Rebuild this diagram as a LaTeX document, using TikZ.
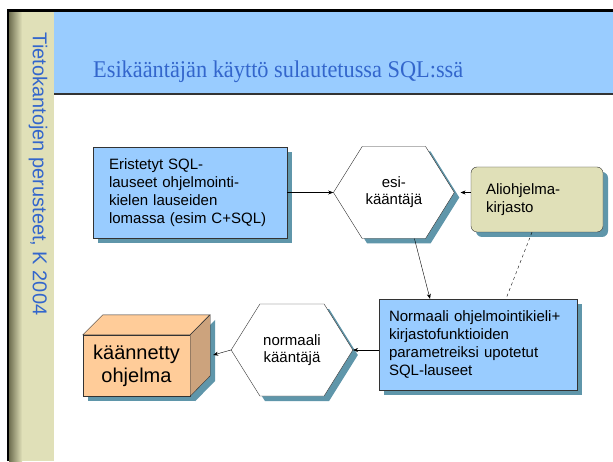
\documentclass[tikz,border=0pt]{standalone}
\usepackage{fontspec}
\setmainfont{Liberation Sans}
\newfontfamily\titleserif{Liberation Serif}
\usepackage{tikz}
\usetikzlibrary{arrows.meta,positioning,shapes.symbols,shadows,calc}
\definecolor{slideblue}{HTML}{99CCFF}
\definecolor{titleblue}{HTML}{3366CC}
\definecolor{sidebeige}{HTML}{E0E0B8}
\definecolor{sideshade}{HTML}{6E6E50}
\definecolor{shadowteal}{HTML}{5F96AA}
\definecolor{boxgray}{HTML}{333333}
\definecolor{cubefront}{HTML}{FFCC99}
\definecolor{cubeside}{HTML}{CCA37D}

\begin{document}
\begin{tikzpicture}[x=1pt,y=1pt,
  tealshadow/.style={drop shadow={shadow xshift=5pt,shadow yshift=-5pt,fill=shadowteal,opacity=1}},
  box/.style={draw=boxgray,fill=slideblue,align=left,minimum height=91pt,
              font=\fontsize{15}{18}\selectfont,tealshadow},
  hexa/.style={shape=signal,signal to=west and east,signal pointer angle=116,
               draw=boxgray,fill=white,minimum width=112pt,minimum height=92pt,
               align=center,font=\fontsize{15}{17}\selectfont,tealshadow},
  arrow/.style={-{Stealth[length=5pt,width=4pt]},thin}
]
  \useasboundingbox (0,0) rectangle (613,461);
  \fill[white] (0,0) rectangle (613,461);
  \fill[sidebeige] (9,0) rectangle (54,449);
  \shade[left color=sideshade,right color=sidebeige] (9,0) rectangle (22,449);
  \fill[slideblue] (54,367) rectangle (613,449);
  \draw[boxgray,line width=1.2pt] (54,367) -- (613,367);
  \draw[black,line width=2.5pt] (8,0) -- (8,450.5) -- (613,450.5);

  \node[font=\titleserif\fontsize{24}{28}\selectfont,text=titleblue,anchor=base west,inner sep=0pt,xscale=0.93] (title) at (93,383) {Esikääntäjän käyttö sulautetussa SQL:ssä};
  \node[font=\fontsize{20}{24}\selectfont,text=titleblue,rotate=-90] (course) at (38,287) {Tietokantojen perusteet, K 2004};

  \node[box,text width=162pt,inner xsep=16pt] (src) at (190,268.5) {Eristetyt SQL-\\lauseet ohjelmointi-\\kielen lauseiden\\lomassa (esim C+SQL)};
  \node[hexa,right=46pt of src] (esi) {esi-\\kääntäjä};
  \node[box,fill=sidebeige,rounded corners=6pt,text width=102pt,inner xsep=15pt,minimum height=65pt] (lib) at (537,261.5) {Aliohjelma-\\kirjasto};
  \node[box,text width=178pt,inner xsep=10pt] (norm) at (478,116.5) {Normaali ohjelmointikieli+\\kirjastofunktioiden\\parametreiksi upotetut\\SQL-lauseet};
  \node[hexa,minimum width=110pt] (comp) at (292,111) {normaali\\kääntäjä};
  \node[draw=boxgray,fill=cubefront,minimum width=107pt,minimum height=61pt,align=center,
        font=\fontsize{20}{23}\selectfont,tealshadow] (cube) at (136.5,95.5) {käännetty\\ohjelma};
  \draw[boxgray,fill=cubefront] (cube.north west) -- ++(20,20) -- ++(107,0) -- (cube.north east) -- cycle;
  \draw[boxgray,fill=cubeside,tealshadow] (cube.north east) -- ++(20,20) -- ++(0,-61) -- (cube.south east) -- cycle;
  \coordinate (cubeside) at ($(cube.east)+(23,10.5)$);

  \draw[arrow] (src.east) -- (esi.west);
  \draw[arrow,shorten >=6pt] (lib.west |- esi.east) -- (esi.east);
  \draw[arrow] (esi.-66) -- ([xshift=-48pt]norm.north);
  \draw[dashed,dash pattern=on 3pt off 3pt] ([xshift=-5pt]lib.south) -- ([xshift=28pt]norm.north);
  \draw[arrow] (norm.west |- comp.east) -- (comp.east);
  \draw[arrow] (comp.west) -- (cubeside);
\end{tikzpicture}
\end{document}
